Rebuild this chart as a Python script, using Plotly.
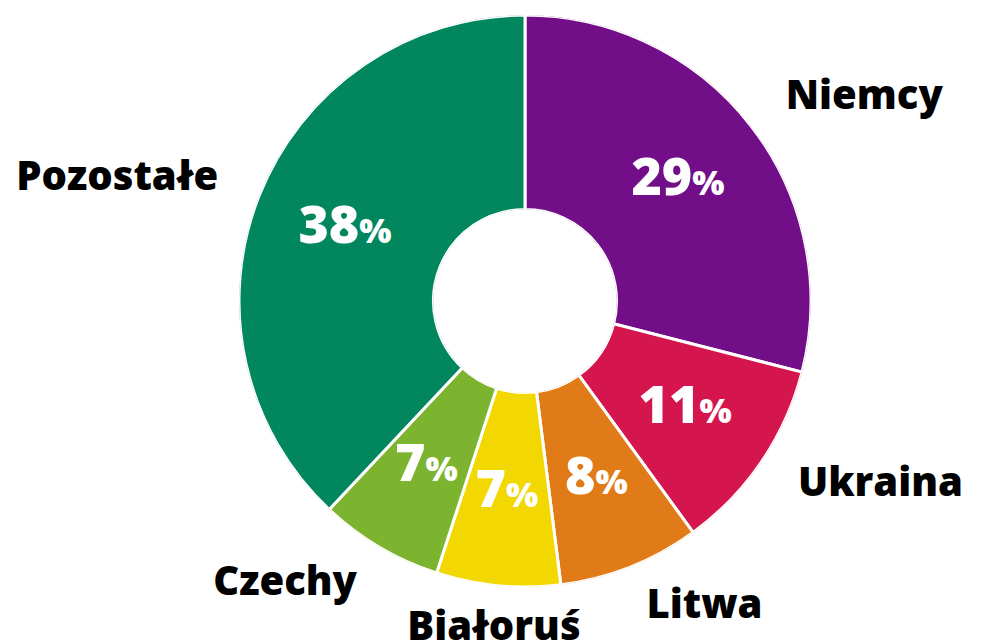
import numpy as np
import plotly.graph_objects as go

# ---- data ----
labels = ["Niemcy", "Ukraina", "Litwa", "Białoruś", "Czechy", "Pozostałe"]
values = [29, 11, 8, 7, 7, 38]
colors = ["#720e87", "#d5154d", "#e17b18", "#f2d800", "#7cb42f", "#01865e"]

# ---- geometry derived from data ----
total = float(sum(values))
widths = [v / total * 360.0 for v in values]
starts = np.cumsum([0.0] + widths[:-1])
mids = starts + np.array(widths) / 2.0

W, H = 981, 640
CX, CY, R = 517, 293, 286          # centre and outer radius in figure px
HOLE = 0.32
PCT_R = 0.525                       # radial position of % labels (polar axis units)
LAB_PX = 330                        # radius (px) of the category label anchors

dom_x = [(CX - R) / W, (CX + R) / W]
dom_y = [1 - (CY + R) / H, 1 - (CY - R) / H]

FONT = "Open Sans"

pct_text = [f"{v}<span style='font-size:34px'>%</span>" for v in values]

def side(theta):
    s = np.sin(np.radians(theta))
    if s > 0.2:
        return "middle right"
    if s < -0.2:
        return "middle left"
    return "middle center"

lab_pos = [side(t) for t in mids]
rad = np.radians(mids)
lab_x = CX + LAB_PX * np.sin(rad)
lab_y = CY - LAB_PX * np.cos(rad)

fig = go.Figure()

# category labels on a pixel-scaled cartesian layer (drawn below the polar layer)
fig.add_trace(go.Scatter(
    x=lab_x, y=lab_y,
    mode="text",
    text=labels,
    textposition=lab_pos,
    textfont=dict(family=FONT, size=40, color="black", weight=800),
    cliponaxis=False,
    hoverinfo="skip",
))

fig.add_trace(go.Barpolar(
    r=[1] * len(values),
    theta=mids,
    width=widths,
    marker=dict(color=colors, line=dict(color="white", width=3)),
    hoverinfo="skip",
))

fig.add_trace(go.Scatterpolar(
    r=[PCT_R] * len(values),
    theta=mids,
    mode="text",
    text=pct_text,
    textposition="middle center",
    textfont=dict(family=FONT, size=52, color="white", weight=800),
    cliponaxis=False,
    hoverinfo="skip",
))

fig.update_layout(
    width=W, height=H,
    margin=dict(l=0, r=0, t=0, b=0),
    paper_bgcolor="white",
    plot_bgcolor="rgba(0,0,0,0)",
    showlegend=False,
    xaxis=dict(range=[0, W], visible=False, fixedrange=True),
    yaxis=dict(range=[H, 0], visible=False, fixedrange=True),
    polar=dict(
        domain=dict(x=dom_x, y=dom_y),
        hole=HOLE,
        bgcolor="rgba(0,0,0,0)",
        angularaxis=dict(rotation=90, direction="clockwise", visible=False),
        radialaxis=dict(range=[0, 1], visible=False),
    ),
)

fig.write_html("out.html")
